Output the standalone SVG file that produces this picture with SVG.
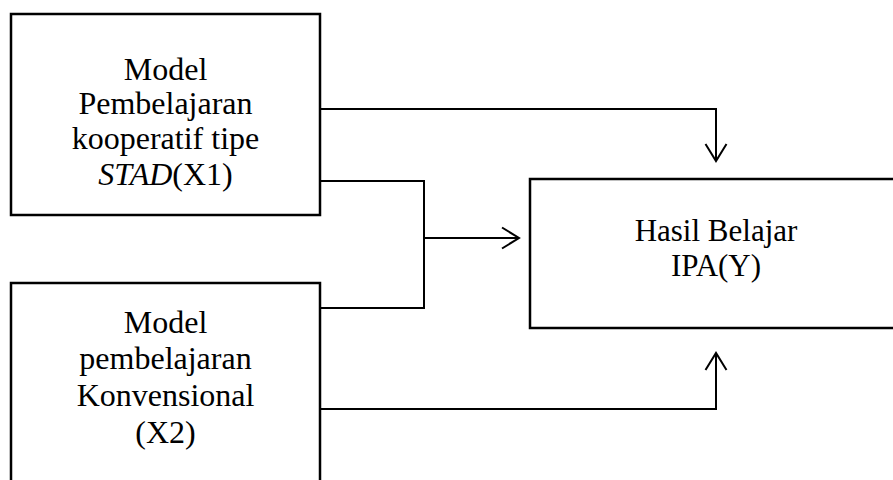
<svg xmlns="http://www.w3.org/2000/svg" width="893" height="480" viewBox="0 0 893 480">
  <defs>
    <marker id="arr" markerUnits="userSpaceOnUse" markerWidth="30" markerHeight="30" refX="0" refY="0" viewBox="-20 -15 30 30" orient="auto" overflow="visible">
      <path d="M-17,-10.5 L0,0 L-17,10.5" fill="none" stroke="#000" stroke-width="2"/>
    </marker>
  </defs>
  <style>
    .box { fill: #fff; stroke: #000; stroke-width: 2.5; }
    .lbl { font-family: "Liberation Serif", "Times New Roman", serif; font-size: 32px; fill: #000; text-anchor: middle; }
    .lbly { font-size: 31px; }
    .conn { fill: none; stroke: #000; stroke-width: 2; }
  </style>
  <rect width="893" height="480" fill="#fff"/>
  <g id="x1">
    <rect class="box" x="11" y="14" width="309" height="201"/>
    <text class="lbl" x="165.5" y="80">Model</text>
    <text class="lbl" x="165.5" y="114">Pembelajaran</text>
    <text class="lbl" x="165.5" y="149">kooperatif tipe</text>
    <text class="lbl" x="165.5" y="185"><tspan font-style="italic">STAD</tspan>(X1)</text>
  </g>
  <g id="x2">
    <rect class="box" x="11" y="283" width="309" height="230"/>
    <text class="lbl" x="165.5" y="333">Model</text>
    <text class="lbl" x="165.5" y="369">pembelajaran</text>
    <text class="lbl" x="165.5" y="406">Konvensional</text>
    <text class="lbl" x="165.5" y="443">(X2)</text>
  </g>
  <g id="y">
    <rect class="box" x="530" y="179" width="380" height="149"/>
    <text class="lbl lbly" x="716" y="241">Hasil Belajar</text>
    <text class="lbl lbly" x="716" y="276">IPA(Y)</text>
  </g>
  <g id="connectors">
    <path class="conn" d="M321,109 H716 V161" marker-end="url(#arr)"/>
    <path class="conn" d="M321,181 H424 V308 H321"/>
    <path class="conn" d="M424,238 H519" marker-end="url(#arr)"/>
    <path class="conn" d="M321,409 H716 V353" marker-end="url(#arr)"/>
  </g>
</svg>
